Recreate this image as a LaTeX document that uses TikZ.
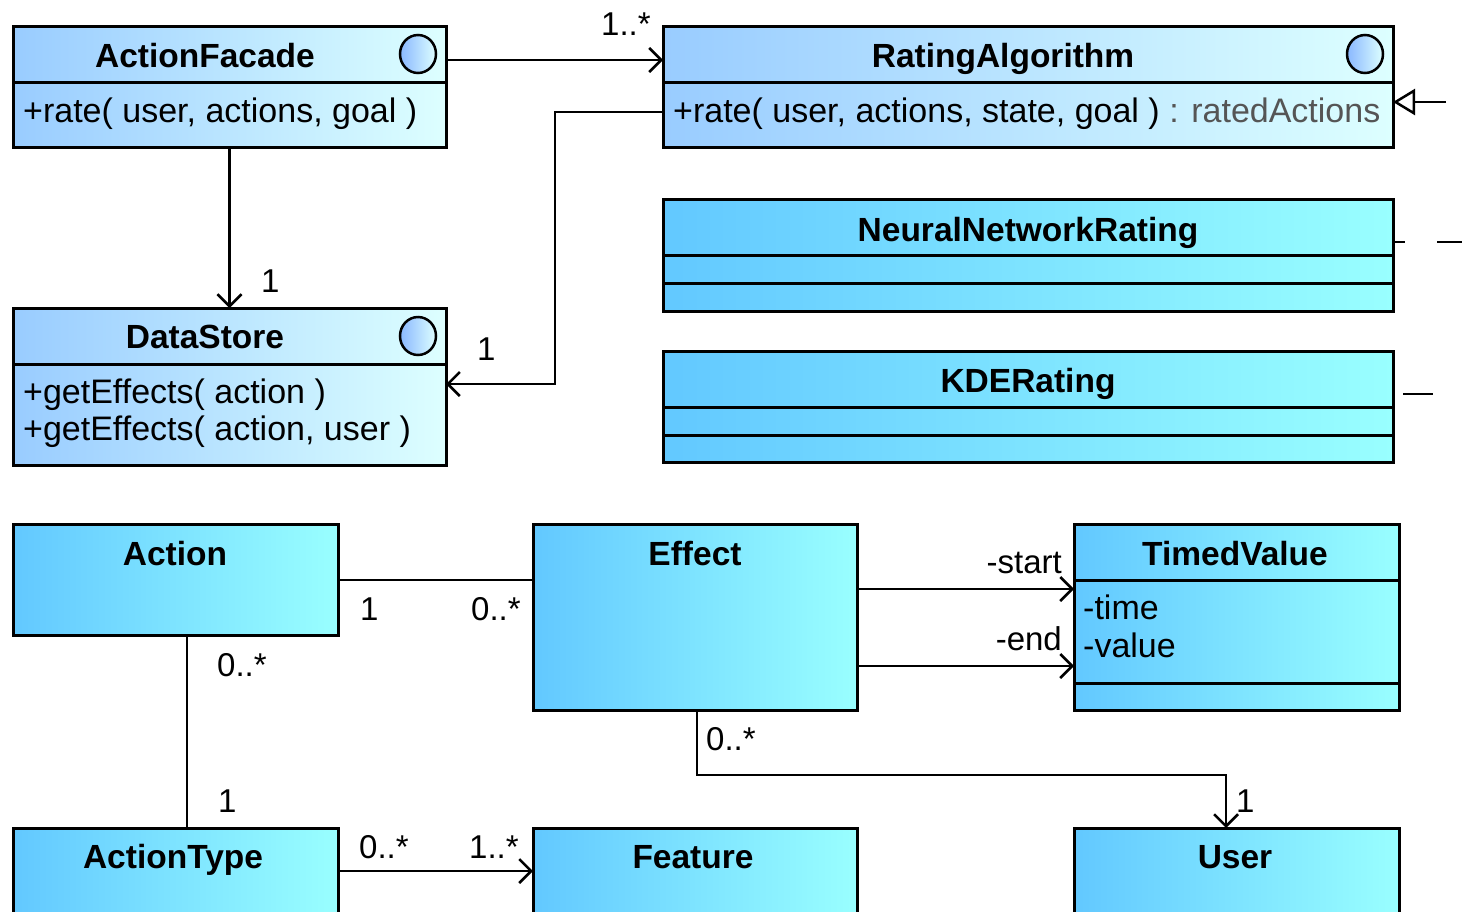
\documentclass[tikz,border=0pt]{standalone}
\usepackage{fontspec}
\setmainfont{Liberation Sans}
\usetikzlibrary{arrows.meta,calc,shapes.geometric}
\definecolor{ifL}{HTML}{99CCFF}
\definecolor{ifR}{HTML}{DDFFFF}
\definecolor{clL}{HTML}{62C8FF}
\definecolor{clR}{HTML}{99FFFF}
\definecolor{rtgray}{HTML}{555555}
\begin{document}
\begin{tikzpicture}[x=1pt,y=-1pt,
  ifbox/.style={draw=black, line width=3pt, left color=ifL, right color=ifR, anchor=north west, inner sep=0pt, outer sep=0pt},
  clbox/.style={draw=black, line width=3pt, left color=clL, right color=clR, anchor=north west, inner sep=0pt, outer sep=0pt},
  ifmark/.style={draw=black, line width=2.5pt, ellipse, minimum width=36pt, minimum height=38pt, inner sep=0pt, outer sep=0pt, left color=ifL!90!blue, right color=ifR},
  head/.style={font=\bfseries\fontsize{33.5}{40}\selectfont, anchor=base, inner sep=0pt},
  body/.style={font=\fontsize{34}{40}\selectfont, anchor=base west, inner sep=0pt},
  mult/.style={font=\fontsize{33}{40}\selectfont, anchor=base west, inner sep=0pt},
  divider/.style={line width=3pt},
  assoc/.style={line width=2.5pt, -{Straight Barb[length=12pt,width=24pt,line width=2.5pt]}},
  plainline/.style={line width=2.5pt},
  genline/.style={line width=2.5pt, -{Triangle[open,length=22pt,width=26pt,line width=2.5pt,fill=white]}}
]
\clip (0,0) rectangle (1462,911);
\fill[white] (0,0) rectangle (1462,911);

% interface boxes
\node[ifbox, minimum width=433pt, minimum height=121pt] (af) at (13,26) {};
\node[ifbox, minimum width=730pt, minimum height=121pt] (ra) at (663,26) {};
\node[ifbox, minimum width=433pt, minimum height=157pt] (ds) at (13,308) {};

% class boxes
\node[clbox, minimum width=730pt, minimum height=112pt] (nn) at (663,199) {};
\node[clbox, minimum width=730pt, minimum height=111pt] (kde) at (663,351) {};
\node[clbox, minimum width=325pt, minimum height=111pt] (act) at (13,524) {};
\node[clbox, minimum width=324pt, minimum height=186pt] (eff) at (533,524) {};
\node[clbox, minimum width=325pt, minimum height=186pt] (tv) at (1074,524) {};
\node[clbox, minimum width=325pt, minimum height=120pt] (at) at (13,828) {};
\node[clbox, minimum width=324pt, minimum height=120pt] (feat) at (533,828) {};
\node[clbox, minimum width=325pt, minimum height=120pt] (user) at (1074,828) {};

% dividers
\draw[divider] (af.west |- 0,82) -- (af.east |- 0,82);
\draw[divider] (ra.west |- 0,82) -- (ra.east |- 0,82);
\draw[divider] (ds.west |- 0,364) -- (ds.east |- 0,364);
\draw[divider] (nn.west |- 0,255) -- (nn.east |- 0,255);
\draw[divider] (nn.west |- 0,283) -- (nn.east |- 0,283);
\draw[divider] (kde.west |- 0,407) -- (kde.east |- 0,407);
\draw[divider] (kde.west |- 0,435) -- (kde.east |- 0,435);
\draw[divider] (tv.west |- 0,580) -- (tv.east |- 0,580);
\draw[divider] (tv.west |- 0,683) -- (tv.east |- 0,683);

% interface markers
\node[ifmark] (afm) at (418,54) {};
\node[ifmark] (ram) at (1365,54) {};
\node[ifmark] (dsm) at (418,336) {};

% headers
\node[head] (afh) at (205,67) {ActionFacade};
\node[head] (rah) at (1003,67) {RatingAlgorithm};
\node[head] (dsh) at (205,348) {DataStore};
\node[head] (nnh) at (1028,241) {NeuralNetworkRating};
\node[head] (kdeh) at (1028,392) {KDERating};
\node[head] (acth) at (175,565) {Action};
\node[head] (effh) at (695,565) {Effect};
\node[head] (tvh) at (1235,565) {TimedValue};
\node[head] (ath) at (173,868) {ActionType};
\node[head] (feath) at (693,868) {Feature};
\node[head] (userh) at (1235,868) {User};

% members
\node[body] (afb) at (23,122) {+rate( user, actions, goal )};
\node[body] (rab) at (673,122) {+rate( user, actions, state, goal ) \textcolor{rtgray}{: ratedActions}};
\node[body] (dsb1) at (23,403) {+getEffects( action )};
\node[body] (dsb2) at (23,440) {+getEffects( action, user )};
\node[body] (tvb1) at (1083,619) {-time};
\node[body] (tvb2) at (1083,657) {-value};

% connectors
\draw[assoc] (af.east |- 0,60) -- (ra.west |- 0,60);
\draw[assoc] (af.south) -- (ds.north);
\draw[assoc] (ra.west |- 0,112) -- (555,112) -- (555,384) -- (ds.east |- 0,384);
\coordinate (genend) at (1446,102);
\draw[genline] (genend) -- (ra.east |- genend);
\draw[plainline, dash pattern=on 12pt off 32pt on 60pt off 40pt] (nn.east |- 0,242) -- (1475,242);
\draw[plainline, dash pattern=on 30pt off 40pt, dash phase=60pt] (kde.east |- 0,394) -- (1475,394);
\draw[plainline] (act.east |- 0,580) -- (eff.west |- 0,580);
\draw[plainline] (act.south -| 187,0) -- (at.north -| 187,0);
\draw[assoc] (at.east |- 0,871) -- (feat.west |- 0,871);
\draw[assoc] (eff.east |- 0,589) -- (tv.west |- 0,589);
\draw[assoc] (eff.east |- 0,666) -- (tv.west |- 0,666);
\draw[assoc] (eff.south -| 697,0) -- (697,775) -- (1226,775) -- (user.north -| 1226,0);

% multiplicities and role names
\node[mult] (m1) at (601,35) {1..*};
\node[mult] (m2) at (261,292) {1};
\node[mult] (m3) at (477,360) {1};
\node[mult] (m4) at (360,620) {1};
\node[mult] (m5) at (471,620) {0..*};
\node[mult] (m6) at (217,676) {0..*};
\node[mult] (m7) at (218,812) {1};
\node[mult] (m8) at (359,858) {0..*};
\node[mult] (m9) at (469,858) {1..*};
\node[mult] (m10) at (706,750) {0..*};
\node[mult] (m11) at (1236,812) {1};
\node[mult, anchor=base east] (r1) at (1062,573) {-start};
\node[mult, anchor=base east] (r2) at (1062,650) {-end};
\end{tikzpicture}
\end{document}
